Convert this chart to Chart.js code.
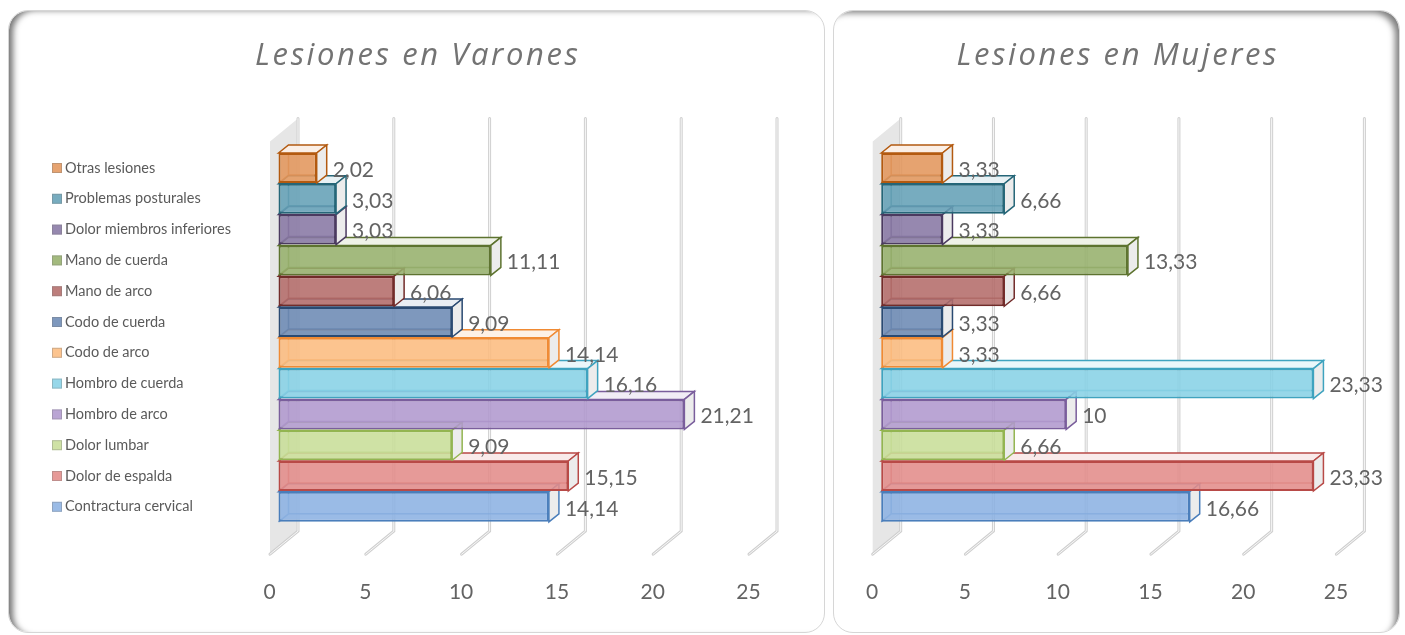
<!DOCTYPE html>
<html>
<head>
<meta charset="utf-8">
<script src="https://cdn.jsdelivr.net/npm/chart.js@4.4.0/dist/chart.umd.min.js"></script>
<style>
    html, body { margin: 0; padding: 0; background: #fff; width: 1405px; height: 635px; overflow: hidden; }
    .panel { position: absolute; top: 10px; height: 623px; background: #fff; border: 1px solid #d6d6d6; border-radius: 20px; box-sizing: border-box; }
    #panelV { left: 8px; width: 817px; box-shadow: inset 7px 2px 6px -3px rgba(0,0,0,0.55); }
    #panelM { left: 833px; width: 567px; box-shadow: inset -7px 5px 6px -3px rgba(0,0,0,0.5); }
    .box { position: absolute; top: 10px; height: 623px; }
    #boxV { left: 8px; width: 817px; }
    #boxM { left: 833px; width: 567px; }
</style>
</head>
<body>
<div class="panel" id="panelV"></div>
<div class="panel" id="panelM"></div>
<div class="box" id="boxV"><canvas id="chartVarones"></canvas></div>
<div class="box" id="boxM"><canvas id="chartMujeres"></canvas></div>
<script>
// data, in sheet order (first category is the bottom bar)
const categories = [
    'Contractura cervical', 'Dolor de espalda', 'Dolor lumbar', 'Hombro de arco',
    'Hombro de cuerda', 'Codo de arco', 'Codo de cuerda', 'Mano de arco',
    'Mano de cuerda', 'Dolor miembros inferiores', 'Problemas posturales', 'Otras lesiones'
];
const varones = [14.14, 15.15, 9.09, 21.21, 16.16, 14.14, 9.09, 6.06, 11.11, 3.03, 3.03, 2.02];
const mujeres = [16.66, 23.33, 6.66, 10, 23.33, 3.33, 3.33, 6.66, 13.33, 3.33, 6.66, 3.33];
const axisMax = 25;
const axisStep = 5;

const fillColors = [
    'rgba(140,178,226,0.88)', 'rgba(226,140,138,0.88)', 'rgba(200,222,152,0.88)', 'rgba(176,152,206,0.88)',
    'rgba(136,210,230,0.88)', 'rgba(252,188,128,0.88)', 'rgba(108,138,180,0.88)', 'rgba(180,108,106,0.88)',
    'rgba(150,176,108,0.88)', 'rgba(136,120,164,0.88)', 'rgba(100,160,182,0.88)', 'rgba(226,150,92,0.88)'
];
const borderColors = [
    '#4a7ebb', '#b84a47', '#93b551', '#7a5e9c', '#3fa3bf', '#f08a33',
    '#2a4a72', '#722b29', '#5d732f', '#4b3a60', '#256678', '#b35a10'
];
const topTints = [
    '#eef3fa', '#f9eaea', '#f3f8ea', '#f1edf6', '#eaf7fa', '#fdf1e6',
    '#e9edf3', '#f3e8e8', '#eff2e8', '#eeebf2', '#e8f1f4', '#fbefe6'
];

const textColor = '#636363';
const DEPTH_X = 10, DEPTH_Y = -8;      // bar depth
const WALL_DX = 28, WALL_DY = 23;      // floor depth
const BACK_SHIFT = 20;                 // back wall offset from the zero line

// title drawn by hand so it can get the wide letter spacing of the original
const spacedTitle = {
    id: 'spacedTitle',
    afterDraw(chart, args, opts) {
        const ctx = chart.ctx;
        ctx.save();
        ctx.font = 'italic 31px "Open Sans"';
        ctx.letterSpacing = '2.6px';
        ctx.fillStyle = '#737373';
        ctx.textAlign = 'center';
        ctx.textBaseline = 'middle';
        ctx.fillText(opts.text, chart.width / 2 + 1.3, 46);
        ctx.restore();
    }
};

const depthPlugin = {
    id: 'depth3d',
    beforeDatasetsDraw(chart) {
        const { ctx, chartArea: a, scales: { x } } = chart;
        const gridTop = a.top - 34;
        const gridBottom = a.bottom + 9;
        const x0 = x.getPixelForValue(0);
        ctx.save();

        // side wall
        ctx.fillStyle = '#e6e6e6';
        ctx.beginPath();
        ctx.moveTo(x0 + BACK_SHIFT, gridTop);
        ctx.lineTo(x0 + BACK_SHIFT, gridBottom);
        ctx.lineTo(x0 + BACK_SHIFT - WALL_DX, gridBottom + WALL_DY);
        ctx.lineTo(x0 + BACK_SHIFT - WALL_DX, gridTop + WALL_DY);
        ctx.closePath();
        ctx.fill();

        // gridlines on back wall and floor
        x.ticks.forEach(t => {
            const px = x.getPixelForValue(t.value) + BACK_SHIFT;
            [[3, '#cfcfcf'], [1, '#f8f8f8']].forEach(([w, c]) => {
                ctx.lineWidth = w;
                ctx.strokeStyle = c;
                ctx.lineJoin = 'round';
                ctx.lineCap = 'round';
                ctx.beginPath();
                ctx.moveTo(px, gridTop);
                ctx.lineTo(px, gridBottom);
                ctx.lineTo(px - WALL_DX, gridBottom + WALL_DY);
                ctx.stroke();
            });
        });

        // hidden edges, top and side faces of bars
        const meta = chart.getDatasetMeta(0);
        meta.data.forEach((bar, i) => {
            const { x: xEnd, y, base, height } = bar.getProps(['x', 'y', 'base', 'height'], true);
            const yt = y - height / 2, yb = y + height / 2;
            ctx.lineWidth = 1.5;
            ctx.strokeStyle = borderColors[i];
            ctx.lineJoin = 'miter';
            ctx.lineCap = 'butt';

            ctx.globalAlpha = 0.75;
            ctx.beginPath();
            ctx.moveTo(base + DEPTH_X, yt + DEPTH_Y);
            ctx.lineTo(base + DEPTH_X, yb + DEPTH_Y);
            ctx.lineTo(xEnd + DEPTH_X, yb + DEPTH_Y);
            ctx.moveTo(base, yb);
            ctx.lineTo(base + DEPTH_X, yb + DEPTH_Y);
            ctx.stroke();
            ctx.globalAlpha = 1;

            ctx.fillStyle = topTints[i];
            ctx.beginPath();
            ctx.moveTo(base, yt);
            ctx.lineTo(base + DEPTH_X, yt + DEPTH_Y);
            ctx.lineTo(xEnd + DEPTH_X, yt + DEPTH_Y);
            ctx.lineTo(xEnd, yt);
            ctx.closePath();
            ctx.fill();
            ctx.stroke();

            ctx.fillStyle = '#ececec';
            ctx.beginPath();
            ctx.moveTo(xEnd, yt);
            ctx.lineTo(xEnd + DEPTH_X, yt + DEPTH_Y);
            ctx.lineTo(xEnd + DEPTH_X, yb + DEPTH_Y);
            ctx.lineTo(xEnd, yb);
            ctx.closePath();
            ctx.fill();
            ctx.stroke();
        });
        ctx.restore();
    }
};

const valueLabels = {
    id: 'valueLabels',
    afterDatasetsDraw(chart) {
        const { ctx } = chart;
        const ds = chart.data.datasets[0];
        ctx.save();
        ctx.font = '21px Lato';
        ctx.fillStyle = textColor;
        ctx.textAlign = 'left';
        ctx.textBaseline = 'middle';
        chart.getDatasetMeta(0).data.forEach((bar, i) => {
            const { x, y } = bar.getProps(['x', 'y'], true);
            ctx.fillText(String(ds.data[i]).replace('.', ','), x + DEPTH_X + 6, y + 2);
        });
        ctx.restore();
    }
};

const legendBoxes = {
    id: 'legendBoxes',
    afterDraw(chart) {
        const y = chart.scales.y;
        if (!y.options.ticks.display) return;
        const ctx = chart.ctx;
        ctx.save();
        y.ticks.forEach((t, i) => {
            const py = y.getPixelForTick(i);
            ctx.fillStyle = fillColors[t.value];
            ctx.strokeStyle = 'rgba(120,120,120,0.35)';
            ctx.lineWidth = 1;
            ctx.fillRect(y.left - 13, py - 5, 10, 10);
            ctx.strokeRect(y.left - 12.5, py - 4.5, 9, 9);
        });
        ctx.restore();
    }
};

function makeChart(id, title, values, layout) {
    const canvas = document.getElementById(id);
    return new Chart(canvas.getContext('2d'), {
        type: 'bar',
        data: {
            labels: categories,
            datasets: [{
                data: values,
                backgroundColor: fillColors,
                borderColor: borderColors,
                borderWidth: 2,
                borderSkipped: false,
                categoryPercentage: 1,
                barPercentage: 0.975
            }]
        },
        options: {
            indexAxis: 'y',
            responsive: true,
            maintainAspectRatio: false,
            animation: false,
            layout: { padding: { left: layout.padLeft, right: layout.padRight, top: 142.6, bottom: 0 } },
            plugins: {
                legend: { display: false },
                tooltip: { enabled: false },
                title: { display: false },
                spacedTitle: { text: title }
            },
            scales: {
                x: {
                    min: 0,
                    max: axisMax,
                    ticks: {
                        stepSize: axisStep,
                        color: textColor,
                        font: { family: 'Lato', size: 21 },
                        padding: 0,
                        labelOffset: -8.5
                    },
                    grid: { color: 'transparent', drawOnChartArea: false, drawTicks: true, tickLength: 57 },
                    border: { display: false },
                    afterFit(s) { s.height = 110.8; s.paddingLeft = 0; s.paddingRight = 0; }
                },
                y: {
                    reverse: true,
                    ticks: {
                        display: layout.names,
                        autoSkip: false,
                        crossAlign: 'far',
                        color: '#5a5a5a',
                        font: { family: 'Lato', size: 14.5 },
                        padding: 0
                    },
                    grid: { display: false },
                    border: { display: false },
                    afterFit(s) { s.width = layout.axisWidth; s.paddingTop = 0; s.paddingBottom = 0; }
                }
            }
        },
        plugins: [spacedTitle, depthPlugin, valueLabels, legendBoxes]
    });
}

makeChart('chartVarones', 'Lesiones en Varones', varones, { padLeft: 57, padRight: 68, axisWidth: 213, names: true });
makeChart('chartMujeres', 'Lesiones en Mujeres', mujeres, { padLeft: 0, padRight: 55.6, axisWidth: 47.7, names: false });
</script>
</body>
</html>
